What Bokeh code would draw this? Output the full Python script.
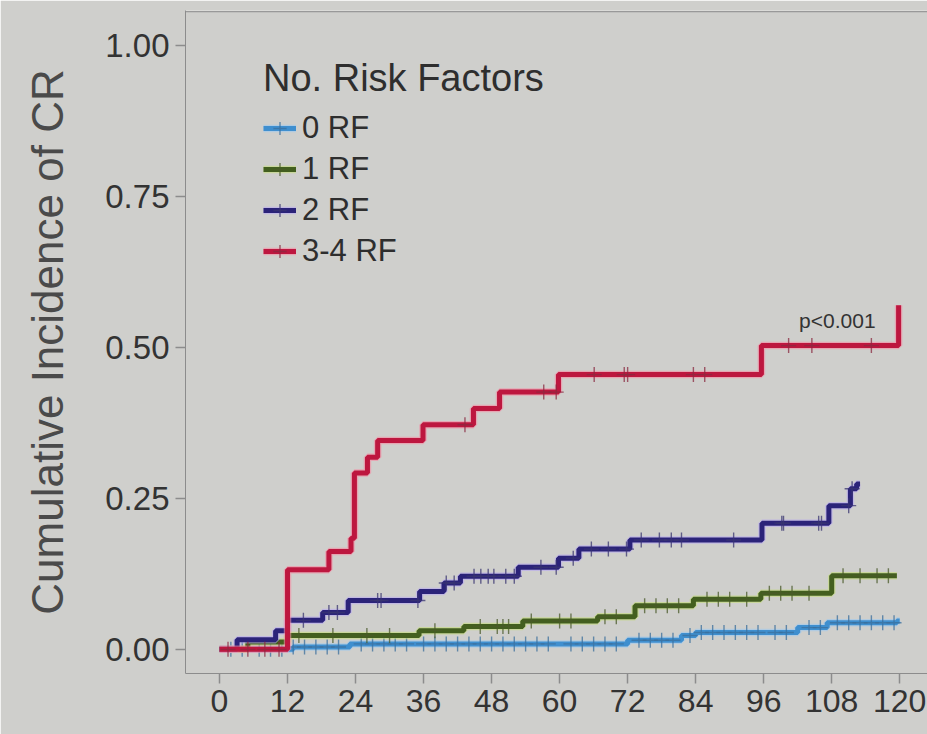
import numpy as np
from bokeh.plotting import figure
from bokeh.models import FixedTicker, Legend, LegendItem, Span, Label, Range1d
from bokeh.embed import file_html
from bokeh.resources import INLINE

# ---------------- data ----------------
x_ticks = [0, 12, 24, 36, 48, 60, 72, 84, 96, 108, 120]
y_ticks = [0.0, 0.25, 0.5, 0.75, 1.0]
y_tick_labels = ["0.00", "0.25", "0.50", "0.75", "1.00"]

groups = ["0 RF", "1 RF", "2 RF", "3-4 RF"]

rf0_t = [0, 13, 23, 72, 81.5, 84, 102, 107.2, 119.5, 120]
rf0_v = [0.0, 0.004, 0.009, 0.015, 0.023, 0.028, 0.036, 0.044, 0.047, 0.047]
rf0_cens = [2, 4, 7, 9, 11, 13, 15, 17, 19, 21, 25, 27, 29, 31, 33, 36, 38, 40, 42, 44,
            46, 48, 50, 52, 54, 56, 58, 62, 64, 66, 68, 70, 74, 76, 78, 80, 83, 85,
            87, 89, 91, 93, 95, 98, 100, 104, 106, 109, 111, 113, 115, 117, 119]

rf1_t = [0, 5, 12, 35.2, 43.1, 53.5, 66.7, 73.3, 83.6, 95.5, 108.0, 119.5]
rf1_v = [0.0, 0.012, 0.023, 0.031, 0.038, 0.047, 0.054, 0.072, 0.083, 0.093, 0.122, 0.122]
rf1_cens = [14, 20, 26, 30, 38, 46, 49, 50, 51, 55, 60, 62, 68, 70, 75, 77, 79, 81, 86,
            88, 90, 93, 97, 99, 101, 104, 110, 113, 116, 118]

rf2_t = [0, 3.1, 9.9, 12.0, 18.2, 22.7, 35.3, 39.6, 42.5, 52.7, 59.8, 63.4, 72.4,
         95.7, 107.5, 111.3, 112.4, 113.0]
rf2_v = [0.0, 0.016, 0.031, 0.048, 0.061, 0.081, 0.096, 0.110, 0.121, 0.136, 0.151,
         0.166, 0.181, 0.209, 0.238, 0.266, 0.274, 0.274]
rf2_cens = [14.8, 19.3, 20.8, 27.9, 28.5, 35, 40, 41.4, 44.9, 46.1, 47.4, 48.4, 50.5,
            52, 56.7, 59.4, 62.4, 65.6, 68.6, 71.8, 74.4, 77.6, 79.7, 81.5, 90.7,
            99.2, 99.5, 105.7, 106.2, 111, 111.6]

rf34_t = [0, 12, 19.3, 23.2, 23.8, 26.1, 27.9, 35.9, 44.8, 49.4, 59.8, 95.6, 119.8]
rf34_v = [0.0, 0.132, 0.162, 0.184, 0.292, 0.318, 0.346, 0.372, 0.399, 0.426, 0.455,
          0.503, 0.570]
rf34_cens = [1.5, 5, 8, 10.5, 43.3, 57.2, 59.4, 66.1, 71.4, 72.0, 83.6, 85.6, 100.4,
             104.5, 115]

p_text = "p<0.001"

# ---------------- styling ----------------
bg = "#cfcfcc"
font = "Liberation Sans"
series = [
    (groups[0], rf0_t, rf0_v, rf0_cens, "#3f8fcf", "#9cc8ee", "#3b6f9c"),
    (groups[1], rf1_t, rf1_v, rf1_cens, "#435f1f", "#c4dc7c", "#4a5a2a"),
    (groups[2], rf2_t, rf2_v, rf2_cens, "#2b2379", "#b7a8f0", "#3a3570"),
    (groups[3], rf34_t, rf34_v, rf34_cens, "#bd173f", "#f58aa2", "#8a2a40"),
]

p = figure(width=927, height=734,
           x_range=Range1d(-6, 124.9), y_range=Range1d(-0.04, 1.058),
           output_backend="svg", toolbar_location=None,
           min_border_left=185, min_border_right=0,
           min_border_top=10, min_border_bottom=61)
p.background_fill_color = bg
p.border_fill_color = bg
p.outline_line_color = None
p.grid.visible = False

items = []
for name, t, v, cens, col, glow, ccol in series:
    t = np.array(t, float)
    v = np.array(v, float)
    r_glow = p.step(t, v, mode="after", line_color=glow, line_width=7.5, line_alpha=0.6)
    r_line = p.step(t, v, mode="after", line_color=col, line_width=5)
    c = np.array(cens, float)
    idx = np.clip(np.searchsorted(t, c, side="right") - 1, 0, len(v) - 1)
    r_c = p.scatter(c, v[idx], marker="cross", size=15, line_color=ccol,
                    line_width=1.4, line_alpha=0.75)
    items.append(LegendItem(label=name, renderers=[r_glow, r_line, r_c]))

legend = Legend(items=items, location=(78, 402), title="No. Risk Factors",
                title_text_font=font, title_text_font_size="38px",
                title_text_font_style="normal",
                title_text_color="#2e2e2e", title_standoff=8,
                label_text_font=font, label_text_font_size="31px",
                label_text_color="#2e2e2e",
                glyph_width=33, glyph_height=40, label_standoff=6, spacing=1,
                padding=0, margin=0, background_fill_alpha=0, border_line_alpha=0)
p.add_layout(legend)

p.add_layout(Label(x=109, y=0.545, text=p_text, text_align="center",
                   text_baseline="middle", text_font=font, text_font_size="21px",
                   text_color="#333333"))

p.add_layout(Span(location=1.056, dimension="width", line_color="#8c8c8c", line_width=1))

ax_col = "#8c8c8c"
p.xaxis.ticker = FixedTicker(ticks=x_ticks)
p.yaxis.ticker = FixedTicker(ticks=y_ticks)
p.yaxis.major_label_overrides = {t: l for t, l in zip(y_ticks, y_tick_labels)}
for ax in (p.xaxis[0], p.yaxis[0]):
    ax.axis_line_color = ax_col
    ax.major_tick_line_color = ax_col
    ax.major_tick_line_width = 1.5
    ax.major_tick_out = 10
    ax.major_tick_in = 0
    ax.minor_tick_line_color = None
    ax.major_label_text_font = font
    ax.major_label_text_color = "#333333"
p.xaxis.major_label_text_font_size = "32px"
p.xaxis.major_label_standoff = 6
p.yaxis.major_label_text_font_size = "33px"
p.yaxis.major_label_standoff = 6
p.yaxis.axis_label = "Cumulative Incidence of CR"
p.yaxis.axis_label_text_font = font
p.yaxis.axis_label_text_font_size = "44px"
p.yaxis.axis_label_text_font_style = "normal"
p.yaxis.axis_label_text_color = "#4a4a4a"
p.yaxis.axis_label_standoff = 30

open("out.html", "w").write(file_html(p, INLINE))
